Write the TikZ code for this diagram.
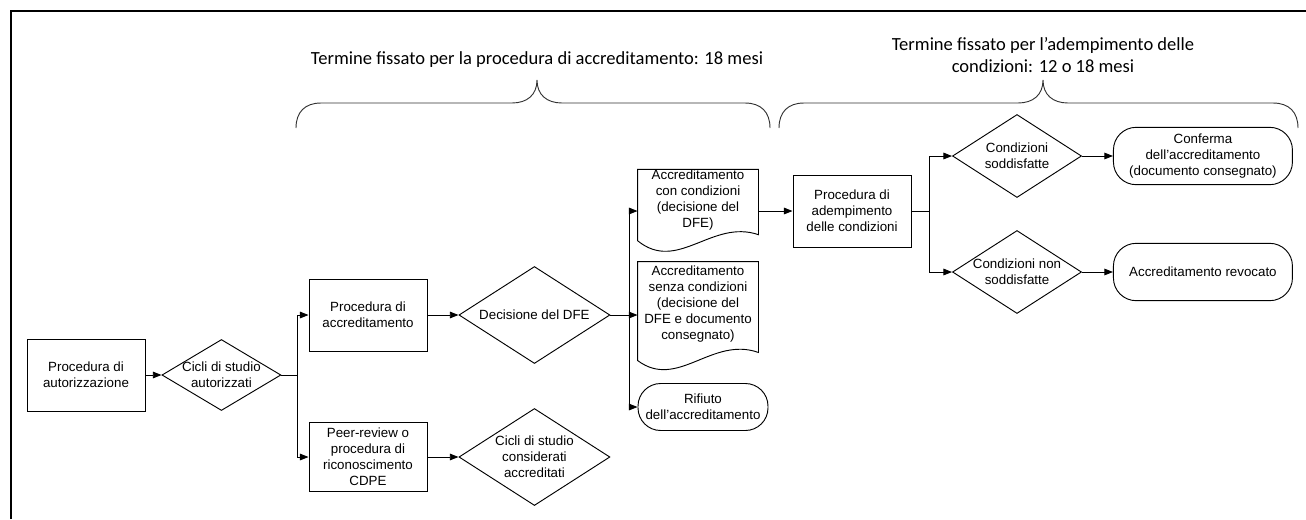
\documentclass[tikz,border=0pt]{standalone}
\usepackage{fontspec}
\setmainfont{Liberation Sans}
\newfontfamily\calib{Carlito}
\usepackage{tikz}
\usetikzlibrary{positioning, shapes.geometric, arrows.meta}

\begin{document}
\begin{tikzpicture}[x=0.75pt, y=-0.75pt, line width=0.7pt, >={Triangle[length=6.5pt, width=5pt]},
    every node/.style={font=\fontsize{10}{12}\selectfont},
    procbox/.style={rectangle, draw, align=center, minimum width=88.5pt, minimum height=54pt, inner sep=1pt},
    decision/.style={diamond, draw, aspect=1.6, align=center, inner sep=-4pt},
    termbox/.style={rectangle, draw, rounded corners=17pt, align=center, inner sep=1pt},
    docbox/.style={rectangle, align=center, minimum width=90pt, inner sep=0pt},
    spanlabel/.style={font=\calib\fontsize{13.9}{16.5}\selectfont, align=center}]
    \useasboundingbox (0,0) rectangle (1306,519);
    \draw[line width=1.5pt] (11,519) -- (11,11) -- (1306,11);
    \node[procbox] (aut) at (86,375) {Procedura di\\autorizzazione};
    \node[decision, minimum width=89.25pt, minimum height=53.25pt, right=12pt of aut] (cicli) {Cicli di studio\\autorizzati};
    \node[procbox] (accr) at (368,315) {Procedura di\\accreditamento};
    \node[procbox, minimum height=52pt] (peer) at (368,457) {Peer-review o\\procedura di\\riconoscimento\\CDPE};
    \node[decision, minimum width=113.25pt, minimum height=72.75pt, right=23.25pt of accr] (dfe) {Decisione del DFE};
    \node[decision, minimum width=113.25pt, minimum height=72.75pt, right=23.25pt of peer] (cdpe) {Cicli di studio\\considerati\\accreditati};
    \node[docbox, minimum height=42pt] (condiz) at (698,200) {Accreditamento\\con condizioni\\(decisione del\\DFE)};
    \node[docbox, minimum height=63pt] (senza) at (698,304) {Accreditamento\\senza condizioni\\(decisione del\\DFE e documento\\consegnato)};
    \node[termbox, minimum width=97.5pt, minimum height=35.25pt] (rifiuto) at (703,407) {Rifiuto\\dell'accreditamento};
    \node[procbox] (adem) at (852,211) {Procedura di\\adempimento\\delle condizioni};
    \node[decision, minimum width=96.75pt, minimum height=62.25pt] (sodd) at (1017,156) {Condizioni\\soddisfatte};
    \node[decision, minimum width=96.75pt, minimum height=62.25pt] (nonsodd) at (1017,272) {Condizioni non\\soddisfatte};
    \node[termbox, minimum width=134.25pt, minimum height=43pt, right=23.25pt of sodd] (conferma) {Conferma\\dell'accreditamento\\(documento consegnato)};
    \node[termbox, minimum width=134.25pt, minimum height=43pt, right=23.25pt of nonsodd] (revocato) {Accreditamento revocato};
    % Document outlines
    \draw ([yshift=-3pt]condiz.south east) -- (condiz.north east) -- (condiz.north west) -- ([yshift=-7.5pt]condiz.south west) .. controls ([shift={(30pt,-32pt)}]condiz.south west) and ([shift={(-35pt,9pt)}]condiz.south east) .. ([yshift=-3pt]condiz.south east) -- cycle;
    \draw ([yshift=-4.5pt]senza.south east) -- (senza.north east) -- (senza.north west) -- ([yshift=-10.5pt]senza.south west) .. controls ([shift={(30pt,-33pt)}]senza.south west) and ([shift={(-35pt,8pt)}]senza.south east) .. ([yshift=-4.5pt]senza.south east) -- cycle;
    % Time spans
    \node[spanlabel] (termine1) at (537,60) {Termine fissato per la procedura di accreditamento: 18 mesi};
    \node[spanlabel] (termine2) at (1043,55) {Termine fissato per l’adempimento delle\\condizioni: 12 o 18 mesi};
    \draw[black!80] (296,128) .. controls (296,112) and (305,103) .. (321,103) -- (512,103) .. controls (527,103) and (537,95) .. (537,80) .. controls (537,95) and (547,103) .. (562,103) -- (745,103) .. controls (761,103) and (770,112) .. (770,128);
    \draw[black!80] (779,128) .. controls (779,112) and (788,103) .. (804,103) -- (1018,103) .. controls (1033,103) and (1043,95) .. (1043,80) .. controls (1043,95) and (1053,103) .. (1068,103) -- (1273,103) .. controls (1289,103) and (1298,112) .. (1298,128);
    % Arrows
    \coordinate[right=12pt of cicli] (split1);
    \coordinate[right=14.25pt of dfe] (split2);
    \coordinate[right=13.5pt of adem] (split3);
    \draw[->] (aut) -- (cicli);
    \draw[->] (cicli) -- (split1) |- (accr);
    \draw[->] (split1) |- (peer);
    \draw[->] (accr) -- (dfe);
    \draw[->] (peer) -- (cdpe);
    \draw[->] (dfe) -- (split2) |- ([yshift=-8.25pt]condiz.west);
    \draw[->] (split2) |- ([yshift=-8.25pt]senza.west);
    \draw[->] (split2) |- (rifiuto);
    \draw[->] ([yshift=-8.25pt]condiz.east) -- (adem);
    \draw[->] (adem) -- (split3) |- (sodd);
    \draw[->] (split3) |- (nonsodd);
    \draw[->] (sodd) -- (conferma);
    \draw[->] (nonsodd) -- (revocato);
\end{tikzpicture}
\end{document}
